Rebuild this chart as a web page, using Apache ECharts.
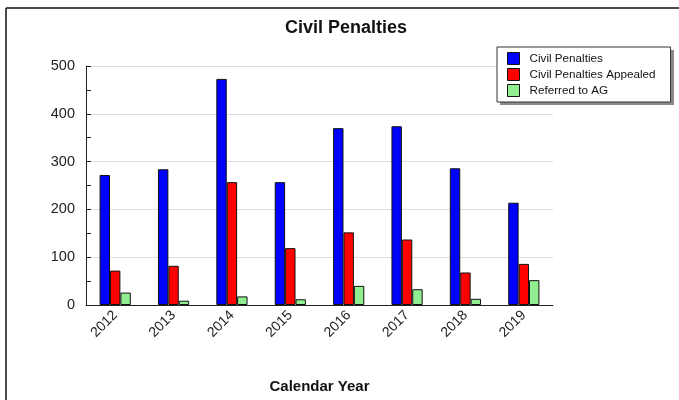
<!DOCTYPE html>
<html>
<head>
<meta charset="utf-8">
<script src="https://cdn.jsdelivr.net/npm/echarts@6/dist/echarts.min.js"></script>
<style>html,body{margin:0;padding:0;background:#fff}#c{width:679px;height:400px}</style>
</head>
<body>
<div id="c"></div>
<script>
const categories = ['2012','2013','2014','2015','2016','2017','2018','2019'];
const civilPenalties = [272, 284, 473, 257, 370, 374, 286, 214];
const civilPenaltiesAppealed = [72, 82, 257, 119, 152, 137, 68, 86];
const referredToAG = [26, 9, 18, 12, 40, 33, 13, 52];
const yTicks = [0, 100, 200, 300, 400, 500];

const chart = echarts.init(document.getElementById('c'), null, {renderer: 'canvas'});
const font = 'Arial, "Liberation Sans", sans-serif';
function barSeries(name, data, color) {
  return {
    name, type: 'bar', data, barWidth: 10.4, barGap: '0%',
    itemStyle: {color, borderColor: '#111', borderWidth: 1},
    emphasis: {disabled: true}
  };
}
chart.setOption({
  animation: false,
  backgroundColor: '#fff',
  textStyle: {fontFamily: font},
  title: {
    text: 'Civil Penalties', left: 346, top: 19, textAlign: 'center', padding: 0,
    textStyle: {fontSize: 18, fontWeight: 'bold', color: '#111', fontFamily: font}
  },
  legend: {
    orient: 'vertical', left: 497, top: 47, z: 10,
    padding: [5, 15, 5, 10], itemGap: 3, itemWidth: 12, itemHeight: 12,
    backgroundColor: '#fff', borderColor: '#333', borderWidth: 1,
    icon: 'rect',
    itemStyle: {borderColor: '#111', borderWidth: 1},
    textStyle: {fontSize: 11.7, color: '#111', fontFamily: font, padding: [0, 0, 0, 5]},
    selectedMode: false,
    data: ['Civil Penalties', 'Civil Penalties Appealed', 'Referred to AG']
  },
  grid: {left: 86, right: 126, top: 66, bottom: 95, containLabel: false},
  xAxis: {
    type: 'category', data: categories,
    name: 'Calendar Year', nameLocation: 'middle', nameGap: 74,
    nameTextStyle: {fontSize: 15, fontWeight: 'bold', color: '#111', fontFamily: font},
    axisLine: {lineStyle: {color: '#222', width: 1}},
    axisTick: {inside: true, length: 5, alignWithLabel: false, lineStyle: {color: '#222'}},
    axisLabel: {rotate: 45, fontSize: 14, color: '#222', margin: 8, fontFamily: font, interval: 0}
  },
  yAxis: {
    type: 'value', min: yTicks[0], max: yTicks[yTicks.length - 1], interval: 100,
    axisLine: {show: true, lineStyle: {color: '#222', width: 1}},
    axisTick: {show: true, inside: true, length: 5, lineStyle: {color: '#222'}},
    minorTick: {show: true, splitNumber: 2, length: 5, lineStyle: {color: '#222'}},
    splitLine: {show: true, lineStyle: {color: '#dddddd', width: 1}},
    axisLabel: {fontSize: 14.5, color: '#222', margin: 11, fontFamily: font}
  },
  graphic: [
    {type: 'line', shape: {x1: 6, y1: 8, x2: 679, y2: 8}, style: {stroke: '#111', lineWidth: 1.5}, silent: true},
    {type: 'line', shape: {x1: 6, y1: 8, x2: 6, y2: 400}, style: {stroke: '#111', lineWidth: 1.5}, silent: true},
    {type: 'rect', z: 1, shape: {x: 500, y: 50, width: 174, height: 55}, style: {fill: '#8a8a8a'}, silent: true}
  ],
  series: [
    barSeries('Civil Penalties', civilPenalties, '#0000ff'),
    barSeries('Civil Penalties Appealed', civilPenaltiesAppealed, '#ff0000'),
    barSeries('Referred to AG', referredToAG, '#90ee90')
  ]
});
</script>
</body>
</html>
